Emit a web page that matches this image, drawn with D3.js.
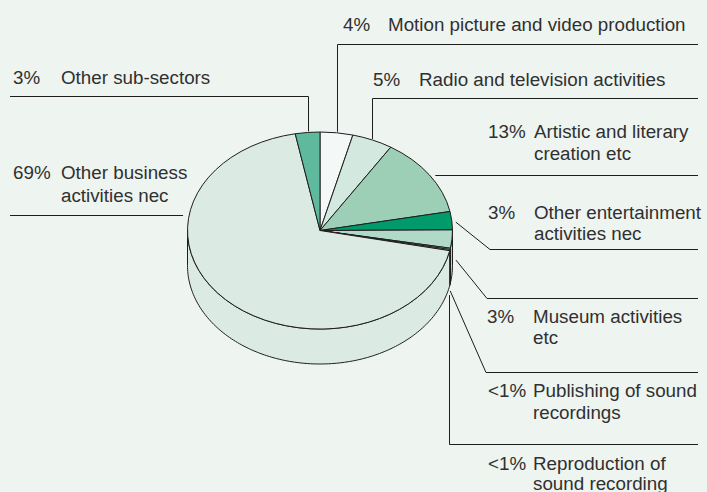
<!DOCTYPE html>
<html>
<head>
<meta charset="utf-8">
<script src="https://cdn.jsdelivr.net/npm/d3@7/dist/d3.min.js"></script>
<style>
  html, body { margin: 0; padding: 0; background: #eef4f0; }
  svg { display: block; }
  text { font-family: "Liberation Sans", Arial, sans-serif; font-size: 18.8px; fill: #303030; }
</style>
</head>
<body>
<div id="chart"></div>
<script>
// Sub-sector shares, clockwise from 12 o'clock
const categories = [
  "Motion picture and video production",
  "Radio and television activities",
  "Artistic and literary creation etc",
  "Other entertainment activities nec",
  "Museum activities etc",
  "Publishing of sound recordings",
  "Reproduction of sound recording",
  "Other business activities nec",
  "Other sub-sectors"
];
const values = [4, 5, 13, 3, 3, 0.2, 0.2, 69, 3];
const valueLabels = ["4%", "5%", "13%", "3%", "3%", "<1%", "<1%", "69%", "3%"];
const labelLines = [
  ["Motion picture and video production"],
  ["Radio and television activities"],
  ["Artistic and literary", "creation etc"],
  ["Other entertainment", "activities nec"],
  ["Museum activities", "etc"],
  ["Publishing of sound", "recordings"],
  ["Reproduction of", "sound recording"],
  ["Other business", "activities nec"],
  ["Other sub-sectors"]
];
const sliceColors = ["#f4f8f6", "#d3e8de", "#9ccfb5", "#009a6b", "#b1d9c7", "#a8d3c0", "#c6e2d5", "#dbeae3", "#5fb99c"];

const W = 707, H = 492;
const cx = 320, cy = 230.5, rx = 132.5, ry = 98.5, depth = 35;
const stroke = "#1e1e1e";

const svg = d3.select("#chart").append("svg").attr("width", W).attr("height", H);

const pie = d3.pie().sort(null).value(d => d)(values);
const pt = (a, dy = 0) => [cx + rx * Math.sin(a), cy - ry * Math.cos(a) + dy];

// Front wall of the disc: only the part between 90° and 270° faces the viewer
const wall = svg.append("g");
pie.forEach((s, i) => {
  const a0 = Math.max(s.startAngle, Math.PI / 2);
  const a1 = Math.min(s.endAngle, 3 * Math.PI / 2);
  if (a1 <= a0) return;
  const n = Math.max(2, Math.ceil((a1 - a0) / 0.02));
  const angles = d3.range(n + 1).map(k => a0 + (a1 - a0) * k / n);
  const topEdge = angles.map(a => pt(a));
  const bottomEdge = angles.slice().reverse().map(a => pt(a, depth));
  wall.append("path")
    .attr("d", d3.line()(topEdge.concat(bottomEdge)) + "Z")
    .attr("fill", sliceColors[i])
    .attr("stroke", stroke)
    .attr("stroke-width", 1)
    .attr("stroke-linejoin", "round");
});

// Top face: unit-circle arcs squashed into the ellipse
const arc = d3.arc().innerRadius(0).outerRadius(1);
const topFace = svg.append("g").attr("transform", `translate(${cx},${cy}) scale(${rx},${ry})`);
topFace.selectAll("path").data(pie).join("path")
  .attr("d", arc)
  .attr("fill", (d, i) => sliceColors[i])
  .attr("stroke", stroke)
  .attr("stroke-width", 1)
  .attr("vector-effect", "non-scaling-stroke")
  .attr("stroke-linejoin", "round");

// Label placement: leader routes and text anchors
const rightEnd = 698, leftEnd = 10;
const layout = [
  { px: 343, tx: 388, ys: [31],  route: "up",    elbowY: 44.5, side: "right" },
  { px: 373, tx: 419, ys: [86],  route: "up",    elbowY: 98.5, side: "right" },
  { px: 488, tx: 534, ys: [138, 159.5], route: "flat", off: [6, 0.5], side: "right" },
  { px: 488, tx: 534, ys: [218.5, 240], route: "diag", off: [4, 1.5], elbow: [490, 249.5], side: "right" },
  { px: 487, tx: 533, ys: [322.5, 344], route: "diag", off: [4, 21], elbow: [487, 298.5], side: "right" },
  { px: 488, tx: 533, ys: [397, 418.5], route: "diag", off: [0, 42], elbow: [486, 372.5], side: "right" },
  { px: 488, tx: 533, ys: [469.5, 489.5], route: "down", off: [-1, 45], elbowY: 444.5, side: "right" },
  { px: 13,  tx: 61,  ys: [179, 201.5], route: "flatL", lineY: 215.5, side: "left" },
  { px: 13,  tx: 61,  ys: [84],  route: "up",    elbowY: 96.5, side: "left" }
];

const leaders = svg.append("g").attr("fill", "none").attr("stroke", stroke).attr("stroke-width", 1);
pie.forEach((s, i) => {
  const L = layout[i];
  const mid = (s.startAngle + s.endAngle) / 2;
  const a = pt(mid);
  const end = L.side === "right" ? rightEnd : leftEnd;
  let pts;
  if (L.route === "up") {
    const x = Math.round(a[0]) + 0.5;
    pts = [[x, a[1] - 1], [x, L.elbowY], [end, L.elbowY]];
  } else if (L.route === "flat") {
    const y = Math.round(a[1]) + 0.5;
    pts = [[a[0] + L.off[0], y], [end, y]];
  } else if (L.route === "diag") {
    pts = [[a[0] + L.off[0], a[1] + L.off[1]], L.elbow, [end, L.elbow[1]]];
  } else if (L.route === "down") {
    const x = Math.round(a[0] + L.off[0]) + 0.5;
    pts = [[x, a[1] + L.off[1]], [x, L.elbowY], [end, L.elbowY]];
  } else {
    // horizontal rule ending just left of the disc at the given height
    const t = Math.acos((cy - L.lineY) / ry);
    const xEdge = cx - rx * Math.sin(t) - 6;
    pts = [[xEdge, L.lineY], [end, L.lineY]];
  }
  leaders.append("path").attr("d", d3.line()(pts));
});

// Text labels
const labels = svg.append("g");
pie.forEach((s, i) => {
  const L = layout[i];
  labels.append("text").attr("x", L.px).attr("y", L.ys[0]).text(valueLabels[i]);
  labelLines[i].forEach((line, k) => {
    labels.append("text").attr("x", L.tx).attr("y", L.ys[k]).text(line);
  });
});
</script>
</body>
</html>
